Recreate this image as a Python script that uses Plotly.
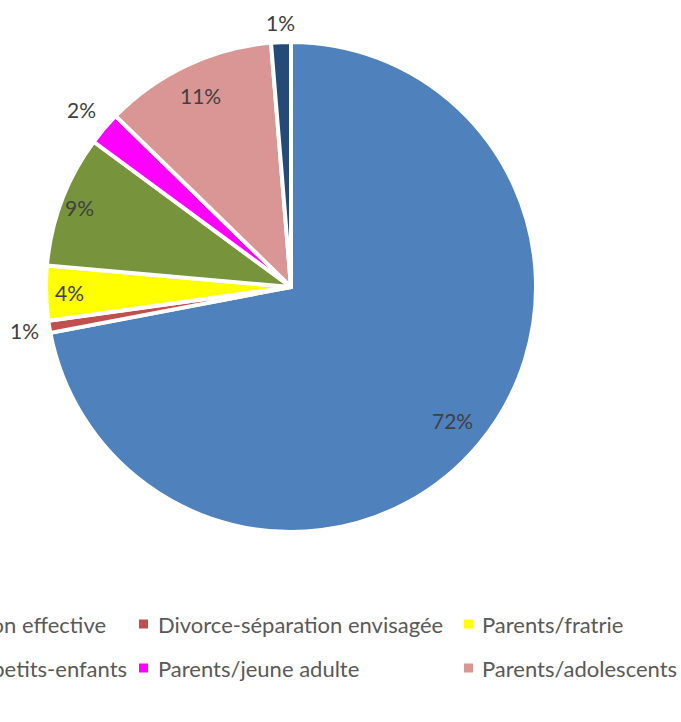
import math
import plotly.graph_objects as go

# Share of situations by family context (percent)
categories = [
    "Divorce-séparation effective",
    "Divorce-séparation envisagée",
    "Parents/fratrie",
    "Grands-parents/petits-enfants",
    "Parents/jeune adulte",
    "Parents/adolescents",
    "Autres",
]
values = [72.0, 0.8, 3.6, 8.7, 2.2, 11.4, 1.3]
colors = ["#4F81BD", "#C0504D", "#FFFF00", "#77933C", "#FF00FF", "#D99694", "#264A78"]
# radial placement of each percentage label, as a fraction of the pie radius
label_radius = [0.86, 1.11, 0.91, 0.93, 1.13, 0.87, 1.09]

W, H = 681, 722
CX, CY, R = 291, 287, 243  # pie centre and radius, pixels
PAD = 2  # the pie's white outline eats into the domain slightly

label_font = dict(family="Lato, Open Sans, sans-serif", size=21, color="#404040")
legend_font = dict(family="Lato, Open Sans, sans-serif", size=22, color="#595959")

fig = go.Figure(
    go.Pie(
        labels=categories,
        values=values,
        sort=False,
        direction="clockwise",
        rotation=0,
        marker=dict(colors=colors, line=dict(color="white", width=4)),
        textinfo="none",
        showlegend=False,
        hoverinfo="label+percent",
        domain=dict(
            x=[(CX - R - PAD) / W, (CX + R + PAD) / W],
            y=[(H - CY - R - PAD) / H, (H - CY + R + PAD) / H],
        ),
    )
)

annotations = []

# Percentage labels placed along each slice's mid-angle
total = sum(values)
cum = 0.0
for v, rf in zip(values, label_radius):
    mid = (cum + v / 2) / total * 2 * math.pi
    cum += v
    px = CX + rf * R * math.sin(mid)
    py = CY - rf * R * math.cos(mid)
    annotations.append(dict(
        x=px / W, y=1 - py / H, xref="paper", yref="paper",
        text=f"{round(v / total * 100)}%", showarrow=False,
        xanchor="center", yanchor="middle", font=label_font,
    ))

# Legend laid out in three columns, two rows
rows_y = [624, 668]
col_marker_x = [None, 143.5, 468.5]
col_text_x = [None, 156, 480]
col0_right = {0: 108, 1: 129}
cells = [(0, 0, 0), (1, 0, 1), (2, 0, 2), (3, 1, 0), (4, 1, 1), (5, 1, 2)]
shapes = []
for idx, r, c in cells:
    py = rows_y[r]
    y = 1 - py / H
    if c == 0:
        annotations.append(dict(
            x=col0_right[r] / W, y=y, xref="paper", yref="paper",
            text=categories[idx], showarrow=False, xanchor="right", yanchor="middle",
            font=legend_font,
        ))
    else:
        annotations.append(dict(
            x=col_text_x[c] / W, y=y, xref="paper", yref="paper",
            text=categories[idx], showarrow=False, xanchor="left", yanchor="middle",
            font=legend_font,
        ))
        mx = col_marker_x[c]
        shapes.append(dict(
            type="rect", xref="paper", yref="paper",
            x0=(mx - 4.5) / W, x1=(mx + 4.5) / W,
            y0=1 - (py + 4.5) / H, y1=1 - (py - 4.5) / H,
            fillcolor=colors[idx], line=dict(width=0),
        ))

fig.update_layout(
    width=W,
    height=H,
    margin=dict(l=0, r=0, t=0, b=0),
    paper_bgcolor="white",
    plot_bgcolor="white",
    annotations=annotations,
    shapes=shapes,
)

fig.write_html("out.html")
